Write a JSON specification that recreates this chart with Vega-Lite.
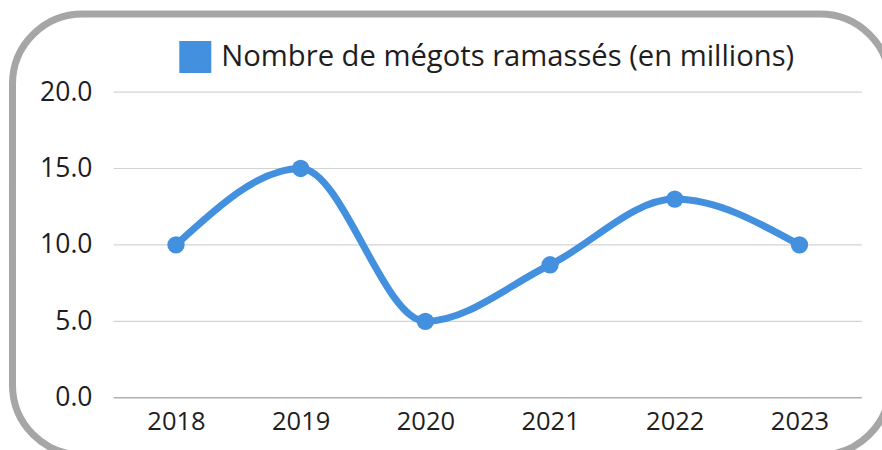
{
  "$schema": "https://vega.github.io/schema/vega-lite/v6.json",
  "width": 877.5,
  "height": 441,
  "autosize": "none",
  "padding": {"left": 12.5, "top": 14, "right": -8, "bottom": -5},
  "background": "white",
  "config": {
    "view": {"stroke": "#a6a6a6", "strokeWidth": 7, "cornerRadius": 70, "fill": "white"},
    "font": "Open Sans"
  },
  "data": {
    "values": [
      {"annee": 2018, "megots": 10},
      {"annee": 2019, "megots": 15},
      {"annee": 2020, "megots": 5},
      {"annee": 2021, "megots": 8.7},
      {"annee": 2022, "megots": 13},
      {"annee": 2023, "megots": 10}
    ]
  },
  "layer": [
    {
      "data": {"values": [{"g": 0}, {"g": 5}, {"g": 10}, {"g": 15}, {"g": 20}]},
      "mark": {"type": "rule"},
      "encoding": {
        "y": {
          "field": "g", "type": "quantitative",
          "scale": {"domain": [-3.75, 25.11], "nice": false, "zero": false},
          "axis": {
            "title": null, "values": [0, 5, 10, 15, 20], "format": ".1f",
            "grid": false, "domain": false, "ticks": false, "tickSize": 0,
            "labelPadding": 0, "offset": -79.5,
            "labelFont": "Open Sans", "labelFontSize": 26.5, "labelColor": "#1e1e1e"
          }
        },
        "x": {
          "datum": 2017.5, "type": "quantitative",
          "scale": {"domain": [2016.689, 2023.726], "nice": false, "zero": false},
          "axis": {
            "title": null, "values": [2018, 2019, 2020, 2021, 2022, 2023], "format": "d",
            "grid": false, "domain": false, "ticks": false, "tickSize": 0,
            "labelPadding": 12, "offset": -57.3,
            "labelFont": "Open Sans", "labelFontSize": 25.5, "labelColor": "#1e1e1e"
          }
        },
        "x2": {"datum": 2023.5},
        "color": {"condition": {"test": "datum.g === 0", "value": "#b0b0b0"}, "value": "#d3d3d3"},
        "strokeWidth": {"condition": {"test": "datum.g === 0", "value": 1.6}, "value": 1.2}
      }
    },
    {
      "mark": {"type": "line", "interpolate": "monotone", "strokeWidth": 7, "color": "#4390df"},
      "encoding": {
        "x": {"field": "annee", "type": "quantitative"},
        "y": {"field": "megots", "type": "quantitative"}
      }
    },
    {
      "mark": {"type": "point", "filled": true, "size": 300, "opacity": 1},
      "encoding": {
        "x": {"field": "annee", "type": "quantitative"},
        "y": {"field": "megots", "type": "quantitative"},
        "color": {
          "datum": "Nombre de mégots ramassés (en millions)",
          "type": "nominal",
          "scale": {"range": ["#4390df"]},
          "legend": {
            "title": null, "orient": "none", "legendX": 166.8, "legendY": 27,
            "padding": 0, "symbolType": "square", "symbolSize": 1024,
            "symbolStrokeWidth": 0, "symbolOpacity": 1,
            "labelFont": "Open Sans", "labelFontSize": 29.2, "labelColor": "#1e1e1e",
            "labelOffset": 10, "labelLimit": 1000
          }
        }
      }
    }
  ]
}
